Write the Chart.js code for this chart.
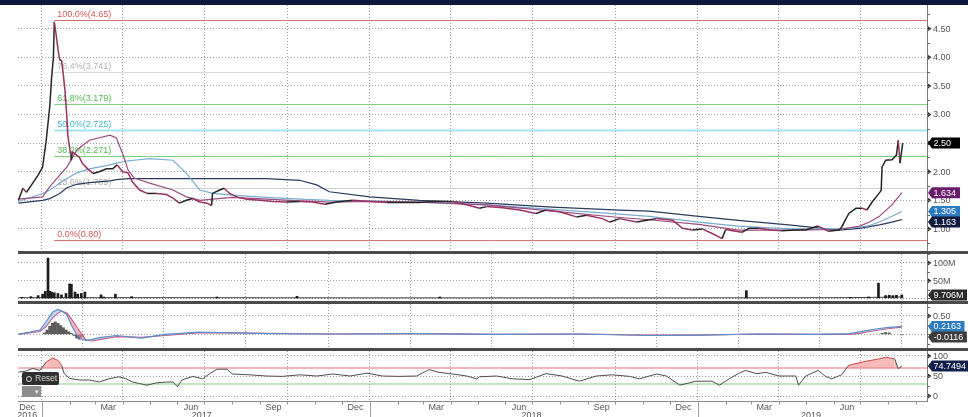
<!DOCTYPE html>
<html>
<head>
<meta charset="utf-8">
<script src="https://cdn.jsdelivr.net/npm/chart.js@4.4.1/dist/chart.umd.min.js"></script>
<style>
  html, body { margin: 0; padding: 0; background: #fff; }
  body { width: 968px; height: 417px; position: relative; overflow: hidden; font-family: "Liberation Sans", Arial, sans-serif; }
  canvas { display: block; }
  .topbar { position: absolute; left: 0; top: 0; width: 968px; height: 5px; background: #0b1a3a; }
  .panel { position: absolute; left: 18px; }
  .sep { position: absolute; left: 18px; width: 950px; height: 3px; background: #4b4b4b; }
  .reset { position: absolute; left: 22px; top: 372px; width: 37px; height: 13px; background: #2f2f2f; border-radius: 2px; color: #cfcfcf; font-size: 8.5px; line-height: 13px; white-space: nowrap; overflow: hidden; }
  .reset i { display: inline-block; width: 4px; height: 4px; border: 1.5px solid #ddd; border-radius: 50%; margin: 0 3px 0 4px; vertical-align: -1px; }
  .tool { position: absolute; left: 22px; top: 386px; width: 19px; height: 11px; background: #8d8d8d; color: #eee; font-size: 7px; line-height: 11px; text-align: right; }
</style>
</head>
<body>
<div class="topbar"></div>
<div class="panel" style="top:5px"><canvas id="c-price" width="950" height="246"></canvas></div>
<div class="sep" style="top:251px"></div>
<div class="panel" style="top:254px"><canvas id="c-vol" width="950" height="47"></canvas></div>
<div class="sep" style="top:301px"></div>
<div class="panel" style="top:304px"><canvas id="c-macd" width="950" height="44"></canvas></div>
<div class="sep" style="top:348px"></div>
<div class="panel" style="top:351px"><canvas id="c-rsi" width="950" height="66"></canvas></div>
<div class="reset"><i></i>Reset</div>
<div class="tool">▾&nbsp;</div>
<script>
// ---- values ----
const priceDates = [
  "2016-12-06","2016-12-11","2016-12-15","2016-12-22","2016-12-28","2017-01-02","2017-01-06","2017-01-08",
  "2017-01-10","2017-01-12","2017-01-14","2017-01-15","2017-01-17","2017-01-19","2017-01-21","2017-01-23",
  "2017-01-25","2017-01-27","2017-01-29","2017-01-30","2017-02-03","2017-02-04","2017-02-08","2017-02-12",
  "2017-02-15","2017-02-21","2017-02-27","2017-03-06","2017-03-14","2017-03-21","2017-03-26","2017-04-01",
  "2017-04-07","2017-04-12","2017-04-20","2017-04-28","2017-05-09","2017-05-20","2017-05-27","2017-06-03",
  "2017-06-11","2017-06-18","2017-06-26","2017-07-04","2017-07-09","2017-07-10","2017-07-18","2017-07-23",
  "2017-07-29","2017-08-06","2017-08-17","2017-09-01","2017-09-15","2017-09-30","2017-10-15","2017-10-29",
  "2017-11-12","2017-11-25","2017-12-13","2018-01-01","2018-01-20","2018-02-06","2018-02-25","2018-03-12",
  "2018-04-03","2018-04-22","2018-05-03","2018-05-11","2018-05-29","2018-06-17","2018-07-05","2018-07-16",
  "2018-07-31","2018-08-19","2018-08-30","2018-09-17","2018-09-25","2018-10-06","2018-10-25","2018-11-05",
  "2018-11-16","2018-12-04","2018-12-15","2018-12-26","2019-01-06","2019-01-17","2019-01-28","2019-02-01",
  "2019-02-12","2019-02-19","2019-02-27","2019-03-10","2019-03-24","2019-04-04","2019-04-20","2019-05-01",
  "2019-05-15","2019-05-26","2019-06-07","2019-06-10","2019-06-18","2019-06-26","2019-07-03","2019-07-08",
  "2019-07-14","2019-07-22","2019-07-24","2019-07-25","2019-07-29","2019-08-05","2019-08-10","2019-08-12",
  "2019-08-14","2019-08-17"
];
const price = [
  1.50,1.71,1.64,1.80,1.94,2.08,2.55,2.85,
  3.15,3.65,4.00,4.62,4.40,4.15,3.95,3.95,
  3.70,3.40,2.95,2.64,2.20,2.35,2.30,2.25,
  2.15,2.05,1.97,2.00,2.05,2.05,2.12,2.00,
  1.98,1.82,1.68,1.62,1.62,1.60,1.54,1.45,
  1.50,1.53,1.47,1.45,1.41,1.62,1.68,1.71,
  1.62,1.56,1.52,1.50,1.48,1.47,1.48,1.47,
  1.43,1.47,1.50,1.48,1.46,1.46,1.46,1.48,
  1.48,1.41,1.36,1.39,1.37,1.33,1.27,1.33,
  1.30,1.21,1.24,1.18,1.12,1.18,1.12,1.15,
  1.18,1.15,1.01,0.98,1.00,0.92,0.83,0.99,
  0.96,0.94,1.01,1.01,0.98,0.97,0.98,0.98,
  1.05,0.96,0.98,1.03,1.27,1.36,1.36,1.33,
  1.47,1.63,1.67,2.08,2.20,2.21,2.29,2.55,
  2.15,2.50
];

const maDates = [
  "2016-12-06","2017-01-02","2017-01-10","2017-01-21","2017-01-29","2017-02-09","2017-02-23","2017-03-18",
  "2017-03-25","2017-04-01","2017-04-07","2017-04-14","2017-05-01","2017-05-27","2017-06-11","2017-06-26",
  "2017-07-10","2017-08-01","2017-09-08","2017-10-15","2017-11-03","2017-11-17","2018-01-01","2018-02-25",
  "2018-05-11","2018-07-23","2018-10-06","2018-11-08","2019-01-02","2019-02-15","2019-04-12","2019-06-07",
  "2019-06-30","2019-07-11","2019-07-22","2019-08-05","2019-08-16"
];
const ma50 = [
  1.52,1.56,1.74,1.94,2.08,2.38,2.55,2.64,2.59,2.32,2.03,1.89,1.80,1.68,1.56,1.50,
  1.52,1.55,1.52,1.49,1.48,1.47,1.48,1.47,1.42,1.31,1.20,1.16,1.08,0.98,0.98,0.99,
  1.05,1.12,1.22,1.42,1.634
];
const ma100 = [
  1.48,1.62,1.68,1.80,1.88,1.98,2.05,2.12,2.15,2.17,2.19,2.20,2.23,2.20,1.97,1.68,
  1.62,1.59,1.55,1.52,1.51,1.50,1.49,1.47,1.42,1.34,1.26,1.22,1.12,1.05,1.00,1.00,
  1.03,1.06,1.12,1.22,1.305
];
const ma200 = [
  1.45,1.50,1.53,1.62,1.72,1.78,1.81,1.84,1.86,1.87,1.88,1.88,1.88,1.88,1.88,1.88,
  1.88,1.88,1.88,1.85,1.77,1.65,1.56,1.50,1.45,1.38,1.33,1.31,1.22,1.15,1.07,0.98,
  1.01,1.04,1.07,1.12,1.163
];

const fibStart = "2017-01-15";
const fibLevels = [4.65, 3.741, 3.179, 2.725, 2.271, 1.709, 0.80];
const fibLabels = ["100.0%(4.65)","76.4%(3.741)","61.8%(3.179)","50.0%(2.725)","38.2%(2.271)","23.6%(1.709)","0.0%(0.80)"];

// volume, millions
const volDates = [
  "2016-12-10","2016-12-20","2016-12-28","2017-01-02","2017-01-05","2017-01-08","2017-01-10","2017-01-12",
  "2017-01-15","2017-01-19","2017-01-23","2017-01-28","2017-02-01","2017-02-03","2017-02-07","2017-02-10",
  "2017-02-14","2017-02-18","2017-03-08","2017-03-11","2017-03-24","2017-04-11","2017-07-15","2017-10-12",
  "2018-03-20","2019-02-24","2019-06-20","2019-07-10","2019-07-21","2019-07-29","2019-08-02","2019-08-06",
  "2019-08-10","2019-08-16"
];
const volume = [
  3,5,8,12,20,114,20,18,
  16,14,10,14,41,40,18,12,
  14,18,10,4,12,5,4,6,
  4,22,3,4,43,8,9,8,
  9,9.706
];
const volFloorDates = ["2016-12-06","2017-06-01","2018-01-01","2019-01-01","2019-06-15","2019-08-16"];
const volFloor = [2, 2, 1.5, 1.5, 2, 4];

const macdDates = [
  "2016-12-06","2016-12-30","2017-01-06","2017-01-13","2017-01-19","2017-01-23","2017-01-29","2017-02-03",
  "2017-02-09","2017-02-14","2017-02-19","2017-02-25","2017-03-06","2017-03-25","2017-04-22","2017-05-18",
  "2017-06-24","2017-08-01","2017-09-08","2017-11-17","2018-02-25","2018-05-20","2018-08-22","2018-11-08",
  "2019-01-02","2019-03-10","2019-05-15","2019-06-18","2019-06-30","2019-07-11","2019-07-22","2019-08-02",
  "2019-08-16"
];
const macdLine = [
  0.00,0.12,0.35,0.60,0.68,0.64,0.53,0.25,-0.02,-0.12,-0.16,-0.14,-0.09,-0.03,-0.10,0.00,
  0.06,0.04,0.02,0.01,0.02,0.00,0.01,-0.03,-0.02,0.01,0.00,0.02,0.07,0.12,0.16,0.19,
  0.2163
];
const macdSignal = [
  0.00,0.08,0.22,0.45,0.58,0.63,0.58,0.42,0.20,0.02,-0.15,-0.18,-0.14,-0.06,-0.08,-0.03,
  0.04,0.04,0.03,0.01,0.02,0.00,0.01,-0.02,-0.02,0.01,0.00,0.00,0.03,0.08,0.12,0.16,
  0.20
];
const histDates = [
  "2017-01-04","2017-01-07","2017-01-10","2017-01-13","2017-01-16","2017-01-19","2017-01-22","2017-01-25",
  "2017-01-28","2017-01-31","2017-02-03","2017-02-06","2017-02-09","2017-02-12","2017-02-15",
  "2019-07-25","2019-07-29","2019-08-02","2019-08-16"
];
const macdHist = [
  0.04,0.12,0.22,0.30,0.34,0.30,0.24,0.18,0.12,0.07,0.03,-0.03,-0.10,-0.13,-0.06,
  0.03,0.05,0.04,-0.0116
];

const rsiDates = [
  "2016-12-06","2016-12-14","2016-12-22","2016-12-30","2017-01-06","2017-01-13","2017-01-19","2017-01-23",
  "2017-01-26","2017-02-01","2017-02-12","2017-02-23","2017-03-06","2017-03-17","2017-03-28","2017-04-05",
  "2017-04-12","2017-04-20","2017-04-28","2017-05-09","2017-05-20","2017-05-27","2017-06-01","2017-06-06",
  "2017-06-18","2017-06-29","2017-07-07","2017-07-15","2017-07-26","2017-08-01","2017-08-20","2017-09-08",
  "2017-09-26","2017-10-15","2017-11-03","2017-11-21","2017-12-10","2017-12-29","2018-01-15","2018-02-03",
  "2018-02-22","2018-03-08","2018-03-19","2018-04-03","2018-04-19","2018-04-30","2018-05-03","2018-05-22",
  "2018-06-09","2018-06-28","2018-07-16","2018-08-03","2018-08-22","2018-09-10","2018-09-28","2018-10-17",
  "2018-10-28","2018-11-16","2018-11-27","2018-12-12","2018-12-30","2019-01-17","2019-01-25","2019-02-05",
  "2019-02-15","2019-02-23","2019-03-07","2019-03-18","2019-04-01","2019-04-20","2019-04-23","2019-05-01",
  "2019-05-15","2019-05-23","2019-05-30","2019-06-10","2019-06-18","2019-07-03","2019-07-22","2019-07-29",
  "2019-08-08","2019-08-12","2019-08-16"
];
const rsi = [
  60,62,69,64,85,95,89,77,
  56,44,40,40,35,43,48,43,
  35,31,27,33,35,35,23,40,
  49,43,56,67,67,55,53,50,
  49,53,50,55,50,57,50,49,
  50,66,59,55,50,43,48,50,
  43,41,56,50,37,50,53,49,
  43,55,50,27,37,37,27,43,
  56,64,56,59,50,50,27,50,
  64,49,43,53,77,85,93,97,
  93,68,74.7494
];

// axes
const gridDates = ["2017-01-01","2017-04-01","2017-07-01","2017-10-01","2018-01-01","2018-04-01",
                   "2018-07-01","2018-10-01","2019-01-01","2019-04-01","2019-07-01"];
const xLabelDates = ["2016-12-16","2017-03-16","2017-06-16","2017-09-16","2017-12-16","2018-03-16",
                     "2018-06-16","2018-09-16","2018-12-16","2019-03-16","2019-06-16"];
const xLabelText = ["Dec","Mar","Jun","Sep","Dec","Mar","Jun","Sep","Dec","Mar","Jun"];
const yearDates = ["2016-12-16","2017-06-28","2018-06-30","2019-05-07"];
const yearText = ["2016","2017","2018","2019"];
const yearStarts = ["2017-01-01","2018-01-01","2019-01-01"];
const priceTicks = [1.0,1.5,2.0,2.5,3.0,3.5,4.0,4.5];
const volTicks = [0,50,100];
const macdTicks = [0,0.5];
const rsiTicks = [0,50,100];

// ---- helpers ----
const DAY0 = Date.UTC(2017, 0, 1);
const dayOf = s => { const [y, m, d] = s.split("-").map(Number); return (Date.UTC(y, m - 1, d) - DAY0) / 864e5; };
const pts = (dates, vals) => dates.map((d, i) => ({ x: dayOf(d), y: vals[i] }));
const X_MIN = -26.4, X_MAX = 985;
const FONT = '"Liberation Sans", Arial, sans-serif';
const GRID = "rgba(60,60,60,0.5)";

Chart.defaults.font.family = FONT;
Chart.defaults.font.size = 9;
Chart.defaults.color = "#555";

const FIB_STYLE = [
  { line: "#cf7474", text: "#d05858", w: 1 },
  { line: "#d9d9d9", text: "#b3b3b3", w: 1 },
  { line: "#7fcf7f", text: "#4fbb4f", w: 1 },
  { line: "#a4e6ec", text: "#45bccb", w: 2 },
  { line: "#7fcf7f", text: "#4fbb4f", w: 1 },
  { line: "#cfcfcf", text: "#ababab", w: 1 },
  { line: "#cf7474", text: "#d05858", w: 1 },
];

// right-hand axis: markers, labels and minor ticks
const axisMarks = (fmt, minor) => ({
  id: "axisMarks",
  afterDraw(chart) {
    const { ctx, chartArea: a, scales: { y } } = chart;
    ctx.save();
    ctx.strokeStyle = "#666"; ctx.lineWidth = 1;
    ctx.font = "9px " + FONT; ctx.textBaseline = "middle"; ctx.textAlign = "left";
    y.ticks.forEach(t => {
      const label = fmt(t.value);
      if (!label) return;
      const py = y.getPixelForValue(t.value);
      ctx.fillStyle = "#333";
      ctx.beginPath(); ctx.moveTo(a.right + 1, py - 2.5); ctx.lineTo(a.right + 4.5, py); ctx.lineTo(a.right + 1, py + 2.5); ctx.fill();
      ctx.fillStyle = "#555";
      ctx.fillText(label, a.right + 6, py + 0.5);
    });
    if (minor) {
      for (let v = Math.ceil(y.min / minor) * minor; v <= y.max; v += minor) {
        const py = Math.round(y.getPixelForValue(v)) + 0.5;
        ctx.beginPath(); ctx.moveTo(a.right, py); ctx.lineTo(a.right + 3, py); ctx.stroke();
      }
    }
    ctx.restore();
  }
});

const valueBoxes = items => ({
  id: "valueBoxes",
  afterDraw(chart) {
    const { ctx, chartArea: a, scales: { y } } = chart;
    const boxes = items.map(b => ({ ...b, py: y.getPixelForValue(b.v) })).sort((p, q) => p.py - q.py);
    for (let i = 1; i < boxes.length; i++) {
      if (boxes[i].py - boxes[i - 1].py < 10.5) boxes[i].py = boxes[i - 1].py + 10.5;
    }
    ctx.save();
    ctx.font = "9px " + FONT; ctx.textBaseline = "middle";
    boxes.forEach(b => {
      const x0 = a.right + 1, x1 = a.right + 5, h = 5.5;
      const x2 = Math.max(x1 + 28, x1 + ctx.measureText(b.text).width + 5);
      ctx.fillStyle = b.color;
      ctx.beginPath();
      ctx.moveTo(x0, b.py); ctx.lineTo(x1, b.py - h); ctx.lineTo(x2, b.py - h);
      ctx.lineTo(x2, b.py + h); ctx.lineTo(x1, b.py + h); ctx.closePath(); ctx.fill();
      ctx.fillStyle = "#fff"; ctx.fillText(b.text, x1 + 1.5, b.py + 0.5);
    });
    ctx.restore();
  }
});

const fibLines = {
  id: "fibLines",
  beforeDatasetsDraw(chart) {
    const { ctx, chartArea: a, scales: { x, y } } = chart;
    const x0 = x.getPixelForValue(dayOf(fibStart));
    ctx.save();
    ctx.font = "9px " + FONT; ctx.textBaseline = "bottom";
    fibLevels.forEach((v, i) => {
      const st = FIB_STYLE[i], py = Math.round(y.getPixelForValue(v)) + 0.5;
      ctx.strokeStyle = st.line; ctx.lineWidth = st.w;
      ctx.beginPath(); ctx.moveTo(x0, py); ctx.lineTo(a.right, py); ctx.stroke();
      ctx.fillStyle = st.text; ctx.fillText(fibLabels[i], x0 + 3, py - 1.5);
    });
    ctx.restore();
  }
};

const timeAxis = {
  id: "timeAxis",
  afterDraw(chart) {
    const { ctx, chartArea: a, scales: { x } } = chart;
    const by = Math.round(a.bottom) + 0.5;
    ctx.save();
    ctx.strokeStyle = "#8c8c8c"; ctx.lineWidth = 1;
    ctx.beginPath(); ctx.moveTo(a.left, by); ctx.lineTo(a.right, by); ctx.stroke();
    for (let k = 0; k < 34; k++) {
      const px = Math.round(x.getPixelForValue((Date.UTC(2016, 11 + k, 1) - DAY0) / 864e5)) + 0.5;
      if (px < a.left || px > a.right) continue;
      ctx.beginPath(); ctx.moveTo(px, by); ctx.lineTo(px, by + 3); ctx.stroke();
    }
    ctx.strokeStyle = "#a5a5a5";
    yearStarts.forEach(d => {
      const px = Math.round(x.getPixelForValue(dayOf(d))) + 0.5;
      ctx.beginPath(); ctx.moveTo(px, by); ctx.lineTo(px, by + 16); ctx.stroke();
    });
    ctx.fillStyle = "#555"; ctx.font = "9px " + FONT;
    ctx.textAlign = "center"; ctx.textBaseline = "middle";
    xLabelDates.forEach((d, i) => ctx.fillText(xLabelText[i], x.getPixelForValue(dayOf(d)), by + 6));
    yearDates.forEach((d, i) => ctx.fillText(yearText[i], x.getPixelForValue(dayOf(d)), by + 14.5));
    ctx.restore();
  }
};

function panel(id, datasets, y, plugins) {
  return new Chart(document.getElementById(id), {
    type: "line",
    data: { datasets },
    options: {
      responsive: false, animation: false,
      layout: { autoPadding: false, padding: { left: 0, right: 0, top: 0, bottom: y.bottomPad || 0 } },
      plugins: { legend: { display: false }, tooltip: { enabled: false } },
      elements: { point: { radius: 0 }, line: { tension: 0 } },
      scales: {
        x: {
          type: "linear", min: X_MIN, max: X_MAX, offset: false,
          afterBuildTicks: s => { s.ticks = gridDates.map(d => ({ value: dayOf(d) })); },
          afterFit: s => { s.height = 0; },
          ticks: { display: false },
          grid: { color: GRID, drawTicks: false },
          border: { display: false, dash: [1, 2] },
        },
        y: {
          position: "right", min: y.min, max: y.max,
          afterBuildTicks: s => { s.ticks = y.ticks.map(v => ({ value: v })); },
          afterFit: s => { s.width = 41; },
          ticks: { display: false },
          grid: { color: GRID, drawTicks: false },
          border: { display: true, color: "#7a7a7a", width: 1, dash: [1, 2] },
        },
      },
    },
    plugins,
  });
}

// ---- price panel ----
panel("c-price", [
  { data: pts(priceDates, price), borderWidth: 1.5, borderColor: "#262626",
    segment: { borderColor: c => c.p1.parsed.y < c.p0.parsed.y ? "#9a3262" : "#262626" } },
  { data: pts(maDates, ma50), borderColor: "#9b4d80", borderWidth: 1.2 },
  { data: pts(maDates, ma100), borderColor: "#78acd0", borderWidth: 1.2 },
  { data: pts(maDates, ma200), borderColor: "#2b3a5e", borderWidth: 1.2 },
], { min: 0.614, max: 4.914, ticks: priceTicks }, [
  fibLines, axisMarks(v => v.toFixed(2), 0.25),
  valueBoxes([
    { v: price[price.length - 1], text: price[price.length - 1].toFixed(2), color: "#000" },
    { v: ma50[ma50.length - 1], text: String(ma50[ma50.length - 1]), color: "#6b1b6b" },
    { v: ma100[ma100.length - 1], text: String(ma100[ma100.length - 1]), color: "#2d7cc2" },
    { v: ma200[ma200.length - 1], text: String(ma200[ma200.length - 1]), color: "#101c3e" },
  ]),
]);

// ---- volume panel ----
panel("c-vol", [
  { type: "bar", data: pts(volDates, volume), backgroundColor: "#1c1c1c", barThickness: 2 },
  { data: pts(volFloorDates, volFloor), borderColor: "#3a3a3a", borderWidth: 1 },
], { min: -7.3, max: 125.4, ticks: volTicks }, [
  axisMarks(v => v ? v + "M" : "", 25),
  valueBoxes([{ v: volume[volume.length - 1], text: volume[volume.length - 1] + "M", color: "#2b2b2b" }]),
]);

// ---- MACD panel ----
panel("c-macd", [
  { data: pts(macdDates, macdLine), borderColor: "#5a8fcc", borderWidth: 1.2,
    fill: { target: "+1", above: "rgba(150,196,228,0.6)", below: "rgba(238,128,150,0.6)" } },
  { data: pts(macdDates, macdSignal), borderColor: "#c4507c", borderWidth: 1.2 },
  { type: "bar", data: pts(histDates, macdHist), backgroundColor: "#5c5c5c", barThickness: 2.5 },
], { min: -0.37, max: 0.826, ticks: macdTicks }, [
  axisMarks(v => v ? v.toFixed(2) : "", 0.25),
  valueBoxes([
    { v: macdLine[macdLine.length - 1], text: String(macdLine[macdLine.length - 1]), color: "#2d7cc2" },
    { v: macdHist[macdHist.length - 1], text: String(macdHist[macdHist.length - 1]), color: "#3c3c3c" },
  ]),
]);

// ---- RSI panel ----
const rsiPts = pts(rsiDates, rsi);
panel("c-rsi", [
  { data: rsiPts, borderColor: "#4d4d4d", borderWidth: 1,
    segment: { borderColor: c => c.p0.parsed.y > 70 && c.p1.parsed.y > 70 ? "#c94a4a" : "#4d4d4d" },
    fill: { target: { value: 70 }, above: "rgba(242,140,140,0.6)", below: "rgba(0,0,0,0)" } },
  { data: rsiPts, borderWidth: 0, borderColor: "rgba(0,0,0,0)",
    fill: { target: { value: 30 }, above: "rgba(0,0,0,0)", below: "rgba(120,205,120,0.45)" } },
  { data: [{ x: X_MIN, y: 70 }, { x: X_MAX, y: 70 }], borderColor: "#e07070", borderWidth: 1 },
  { data: [{ x: X_MIN, y: 30 }, { x: X_MAX, y: 30 }], borderColor: "#7fcf7f", borderWidth: 1 },
], { min: -12.5, max: 112.5, ticks: rsiTicks, bottomPad: 16 }, [
  axisMarks(v => String(v), 25), timeAxis,
  valueBoxes([{ v: rsi[rsi.length - 1], text: String(rsi[rsi.length - 1]), color: "#10204a" }]),
]);
</script>
</body>
</html>
